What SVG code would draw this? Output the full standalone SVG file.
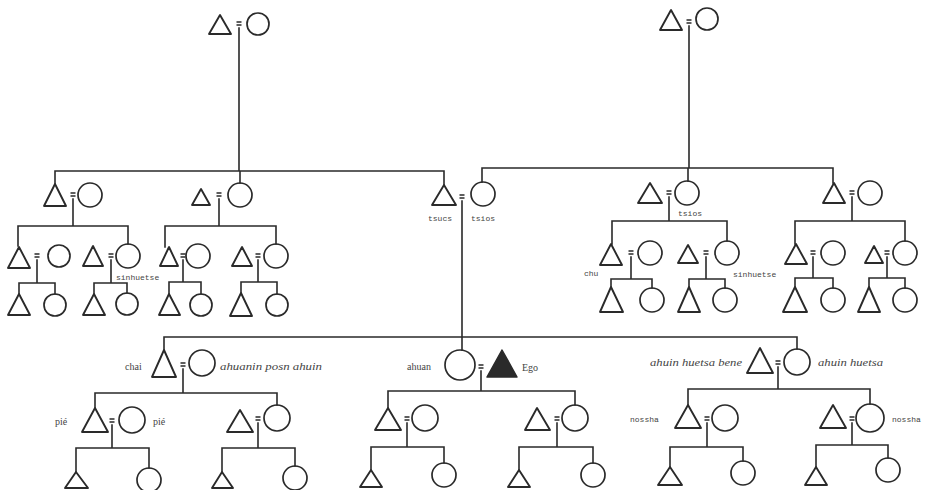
<svg xmlns="http://www.w3.org/2000/svg" width="935" height="490" viewBox="0 0 935 490">
<style>
  .ln{fill:none;stroke:#2a2a2a;stroke-width:1.6;stroke-linecap:square}
  .tri{fill:none;stroke:#2a2a2a;stroke-width:1.9;stroke-linejoin:round}
  .cir{fill:none;stroke:#2a2a2a;stroke-width:1.7}
  .ego{fill:#2a2a2a;stroke:#2a2a2a;stroke-width:1.5;stroke-linejoin:round}
  .eq{stroke:#2a2a2a;stroke-width:1.3}
  .lb{font-family:"Liberation Mono","DejaVu Sans Mono",monospace;font-size:8px;fill:#444}
  .sr{font-family:"Liberation Serif","DejaVu Serif",serif;font-size:10px;fill:#444}
  .it{font-family:"Liberation Serif","DejaVu Serif",serif;font-size:10.5px;font-style:italic;fill:#444}
</style>
<rect width="935" height="490" fill="#ffffff"/>

<!-- descent and sibling lines -->
<g id="connectors" class="ln">
  <!-- top couples down to their children -->
  <path d="M239 28V171M55 171H444M55 171V184M240 171V183M444 171V185"/>
  <path d="M689 26V168M482 168H833M482 168V182M688 168V181M833 168V183"/>
  <!-- second generation, left -->
  <path d="M73 199V226M18 226H128M18 226V246M128 226V244"/>
  <path d="M219 199V226M165 226H276M165 226V247M276 226V244"/>
  <!-- second generation, right -->
  <path d="M669 197V221M612 221H727M612 221V244M727 221V241"/>
  <path d="M852 197V221M795 221H905M795 221V244M905 221V241"/>
  <!-- third generation, left -->
  <path d="M37 260V283M19 283H55M19 283V294M55 283V294"/>
  <path d="M111 260V283M94 283H127M94 283V294M127 283V293"/>
  <path d="M183 260V282M169 282H201M169 282V294M201 282V294"/>
  <path d="M258 260V282M241 282H277M241 282V293M277 282V294"/>
  <!-- third generation, right -->
  <path d="M631 257V279M611 279H652M611 279V287M652 279V288"/>
  <path d="M706 257V279M689 279H725M689 279V287M725 279V288"/>
  <path d="M813 257V278M795 278H833M795 278V287M833 278V288"/>
  <path d="M887 257V278M869 278H905M869 278V287M905 278V288"/>
  <!-- Ego's generation -->
  <path d="M462 201V350M164 337H797M164 337V350M797 337V349"/>
  <path d="M183 369V393M95 393H277M95 393V408M277 393V405"/>
  <path d="M481 371V391M388 391H575M388 391V408M575 391V405"/>
  <path d="M778 367V389M688 389H870M688 389V405M870 389V404"/>
  <!-- children's generation -->
  <path d="M112 425V448M76 448H149M76 448V472M149 448V468"/>
  <path d="M258 423V448M222 448H295M222 448V472M295 448V466"/>
  <path d="M407 423V447M371 447H444M371 447V470M444 447V463"/>
  <path d="M557 423V447M519 447H593M519 447V470M593 447V463"/>
  <path d="M707 423V447M670 447H743M670 447V467M743 447V461"/>
  <path d="M852 423V445M816 445H888M816 445V467M888 445V458"/>
</g>

<!-- couples: triangle = male, circle = female, '=' = marriage -->
<g id="top-left">
  <polygon class="tri" points="220,15 209,34 231,34"/>
  <circle class="cir" cx="258" cy="24" r="11"/>
  <path class="eq" d="M236.5 22H241.5M236.5 25H241.5"/>
</g>
<g id="top-right">
  <polygon class="tri" points="671,10 660,30 682,30"/>
  <circle class="cir" cx="707" cy="19" r="11"/>
  <path class="eq" d="M686.5 20H691.5M686.5 23H691.5"/>
</g>

<g id="g2-left-a">
  <polygon class="tri" points="55,184 44,206 66,206"/>
  <circle class="cir" cx="90" cy="195" r="12"/>
  <path class="eq" d="M70.5 193H75.5M70.5 196H75.5"/>
</g>
<g id="g2-left-b">
  <polygon class="tri" points="201,189 192,205 210,205"/>
  <circle class="cir" cx="240" cy="195" r="12"/>
  <path class="eq" d="M216.5 193H221.5M216.5 196H221.5"/>
</g>
<g id="g2-middle">
  <polygon class="tri" points="444,185 432,205 456,205"/>
  <circle class="cir" cx="483" cy="194" r="12"/>
  <path class="eq" d="M459.5 195H464.5M459.5 198H464.5"/>
  <text class="lb" x="440" y="221" text-anchor="middle">tsucs</text>
  <text class="lb" x="483" y="221" text-anchor="middle">tsios</text>
</g>
<g id="g2-right-a">
  <polygon class="tri" points="650,183 638,203 662,203"/>
  <circle class="cir" cx="687" cy="193" r="12"/>
  <path class="eq" d="M666.5 191H671.5M666.5 194H671.5"/>
  <text class="lb" x="690" y="216" text-anchor="middle">tsios</text>
</g>
<g id="g2-right-b">
  <polygon class="tri" points="834,183 823,203 845,203"/>
  <circle class="cir" cx="870" cy="193" r="12"/>
  <path class="eq" d="M849.5 191H854.5M849.5 194H854.5"/>
</g>

<g id="g3-1">
  <polygon class="tri" points="19,247 8,268 30,268"/>
  <circle class="cir" cx="59" cy="256" r="11"/>
  <path class="eq" d="M34.5 254H39.5M34.5 257H39.5"/>
</g>
<g id="g3-2">
  <polygon class="tri" points="93,246 83,266 103,266"/>
  <circle class="cir" cx="128" cy="256" r="12"/>
  <path class="eq" d="M108.5 254H113.5M108.5 257H113.5"/>
  <text class="lb" x="116" y="280">sinhuetse</text>
</g>
<g id="g3-3">
  <polygon class="tri" points="169,247 160,266 178,266"/>
  <circle class="cir" cx="198" cy="256" r="12"/>
  <path class="eq" d="M180.5 254H185.5M180.5 257H185.5"/>
</g>
<g id="g3-4">
  <polygon class="tri" points="242,247 232,266 252,266"/>
  <circle class="cir" cx="276" cy="256" r="12"/>
  <path class="eq" d="M255.5 254H260.5M255.5 257H260.5"/>
</g>
<g id="g3-5">
  <polygon class="tri" points="611,244 600,265 622,265"/>
  <circle class="cir" cx="650" cy="253" r="12"/>
  <path class="eq" d="M628.5 251H633.5M628.5 254H633.5"/>
  <text class="lb" x="584" y="276">chu</text>
</g>
<g id="g3-6">
  <polygon class="tri" points="688,245 678,263 698,263"/>
  <circle class="cir" cx="727" cy="253" r="12"/>
  <path class="eq" d="M703.5 251H708.5M703.5 254H708.5"/>
  <text class="lb" x="733" y="277">sinhuetse</text>
</g>
<g id="g3-7">
  <polygon class="tri" points="796,244 785,264 807,264"/>
  <circle class="cir" cx="833" cy="253" r="12"/>
  <path class="eq" d="M810.5 251H815.5M810.5 254H815.5"/>
</g>
<g id="g3-8">
  <polygon class="tri" points="874,246 865,263 883,263"/>
  <circle class="cir" cx="905" cy="253" r="12"/>
  <path class="eq" d="M884.5 251H889.5M884.5 254H889.5"/>
</g>

<g id="g4-row">
  <polygon class="tri" points="19,294 8,315 30,315"/>
  <circle class="cir" cx="55" cy="305" r="11"/>
  <polygon class="tri" points="94,294 83,315 105,315"/>
  <circle class="cir" cx="127" cy="304" r="11"/>
  <polygon class="tri" points="169,294 159,315 180,315"/>
  <circle class="cir" cx="201" cy="305" r="11"/>
  <polygon class="tri" points="241,293 230,316 252,316"/>
  <circle class="cir" cx="277" cy="305" r="11"/>
  <polygon class="tri" points="611,287 600,312 623,312"/>
  <circle class="cir" cx="652" cy="300" r="12"/>
  <polygon class="tri" points="689,287 678,312 700,312"/>
  <circle class="cir" cx="725" cy="300" r="12"/>
  <polygon class="tri" points="795,287 783,312 807,312"/>
  <circle class="cir" cx="833" cy="300" r="12"/>
  <polygon class="tri" points="869,287 858,312 880,312"/>
  <circle class="cir" cx="905" cy="300" r="12"/>
</g>

<g id="chai">
  <polygon class="tri" points="164,350 152,377 176,377"/>
  <circle class="cir" cx="202" cy="363" r="13"/>
  <path class="eq" d="M180.5 363H185.5M180.5 366H185.5"/>
  <text class="sr" x="125" y="370">chai</text>
  <text class="it" x="220" y="370" textLength="102" lengthAdjust="spacingAndGlyphs">ahuanin posn ahuin</text>
</g>
<g id="ego">
  <circle class="cir" cx="460" cy="365" r="15"/>
  <polygon class="ego" points="502,350 487,377 517,377"/>
  <path class="eq" d="M478.5 365H483.5M478.5 368H483.5"/>
  <text class="sr" x="407" y="370">ahuan</text>
  <text class="sr" x="522" y="371">Ego</text>
</g>
<g id="ahuin-huetsa">
  <polygon class="tri" points="760,348 747,373 773,373"/>
  <circle class="cir" cx="797" cy="362" r="13"/>
  <path class="eq" d="M775.5 361H780.5M775.5 364H780.5"/>
  <text class="it" x="650" y="366" textLength="92" lengthAdjust="spacingAndGlyphs">ahuin huetsa bene</text>
  <text class="it" x="818" y="366" textLength="65" lengthAdjust="spacingAndGlyphs">ahuin huetsa</text>
</g>

<g id="pie">
  <polygon class="tri" points="95,408 82,432 108,432"/>
  <circle class="cir" cx="132" cy="420" r="13"/>
  <path class="eq" d="M109.5 419H114.5M109.5 422H114.5"/>
  <text class="sr" x="55" y="425">pié</text>
  <text class="sr" x="153" y="425">pié</text>
</g>
<g id="sib-2">
  <polygon class="tri" points="240,410 227,432 253,432"/>
  <circle class="cir" cx="277" cy="418" r="13"/>
  <path class="eq" d="M255.5 417H260.5M255.5 420H260.5"/>
</g>
<g id="child-1">
  <polygon class="tri" points="388,408 375,430 401,430"/>
  <circle class="cir" cx="425" cy="418" r="13"/>
  <path class="eq" d="M404.5 417H409.5M404.5 420H409.5"/>
</g>
<g id="child-2">
  <polygon class="tri" points="537,408 525,430 550,430"/>
  <circle class="cir" cx="575" cy="418" r="13"/>
  <path class="eq" d="M554.5 417H559.5M554.5 420H559.5"/>
</g>
<g id="nossha-1">
  <polygon class="tri" points="688,405 675,428 701,428"/>
  <circle class="cir" cx="725" cy="418" r="13"/>
  <path class="eq" d="M704.5 417H709.5M704.5 420H709.5"/>
  <text class="lb" x="630" y="422" font-size="9.5">nossha</text>
</g>
<g id="nossha-2">
  <polygon class="tri" points="833,405 820,428 846,428"/>
  <circle class="cir" cx="870" cy="418" r="14"/>
  <path class="eq" d="M849.5 417H854.5M849.5 420H854.5"/>
  <text class="lb" x="892" y="422" font-size="9.5">nossha</text>
</g>

<g id="g-bottom-row">
  <polygon class="tri" points="76,472 65,488 88,488"/>
  <circle class="cir" cx="149" cy="480" r="12"/>
  <polygon class="tri" points="222,472 212,488 233,488"/>
  <circle class="cir" cx="295" cy="478" r="12"/>
  <polygon class="tri" points="371,470 360,487 382,487"/>
  <circle class="cir" cx="444" cy="475" r="12"/>
  <polygon class="tri" points="519,470 508,487 530,487"/>
  <circle class="cir" cx="593" cy="475" r="12"/>
  <polygon class="tri" points="670,467 658,485 682,485"/>
  <circle class="cir" cx="743" cy="473" r="12"/>
  <polygon class="tri" points="816,467 805,485 827,485"/>
  <circle class="cir" cx="888" cy="470" r="12"/>
</g>
</svg>
